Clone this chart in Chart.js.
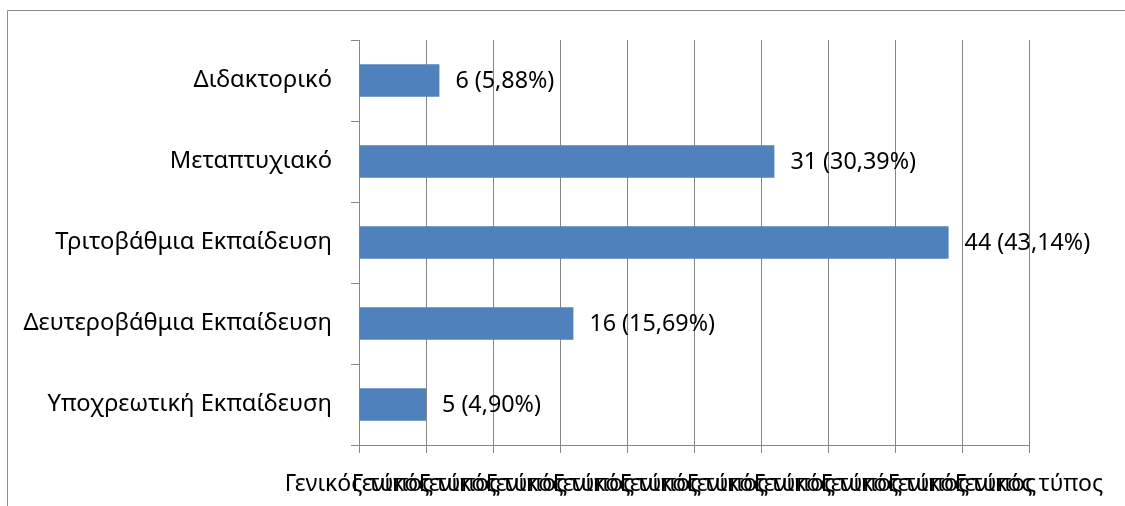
<!DOCTYPE html>
<html><head><meta charset="utf-8">
<script src="https://cdn.jsdelivr.net/npm/chart.js@4"></script>
<style>html,body{margin:0;padding:0;background:#fff;}#wrap{width:1125px;height:506px;position:relative;}</style>
</head><body><div id="wrap"><canvas id="c" width="1125" height="506"></canvas></div>
<script>
const categories = ["Διδακτορικό","Μεταπτυχιακό","Τριτοβάθμια Εκπαίδευση","Δευτεροβάθμια Εκπαίδευση","Υποχρεωτική Εκπαίδευση"];
const counts = [6, 31, 44, 16, 5];
const percents = ["5,88", "30,39", "43,14", "15,69", "4,90"];
const xTickLabel = "Γενικός τύπος";

const FONT = "'Noto Sans', sans-serif";
const FS = 23;
const GRID = "#868686";

const frame = {
  id: 'frame',
  beforeDraw(chart) {
    const ctx = chart.ctx;
    ctx.save();
    ctx.fillStyle = '#fff';
    ctx.fillRect(0, 0, chart.width, chart.height);
    ctx.strokeStyle = '#8c8c8c';
    ctx.lineWidth = 1;
    ctx.beginPath();
    ctx.moveTo(7.5, 506);
    ctx.lineTo(7.5, 10.5);
    ctx.lineTo(1125, 10.5);
    ctx.stroke();
    ctx.restore();
  }
};

const valueLabels = {
  id: 'valueLabels',
  afterDatasetsDraw(chart) {
    const ctx = chart.ctx;
    const meta = chart.getDatasetMeta(0);
    ctx.save();
    ctx.font = "23.3px " + FONT;
    ctx.fillStyle = '#000';
    ctx.textAlign = 'left';
    ctx.textBaseline = 'middle';
    meta.data.forEach((bar, i) => {
      ctx.fillText(counts[i] + " (" + percents[i] + "%)", bar.x + 16, bar.y + 1);
    });
    ctx.restore();
  }
};

new Chart(document.getElementById('c'), {
  type: 'bar',
  data: {
    labels: categories,
    datasets: [{
      data: counts,
      backgroundColor: '#4F81BD',
      borderWidth: 0,
      categoryPercentage: 1,
      barPercentage: 0.4
    }]
  },
  options: {
    indexAxis: 'y',
    responsive: false,
    animation: false,
    layout: { padding: { left: 0, top: 40, right: 96, bottom: 0 } },
    plugins: { legend: { display: false }, tooltip: { enabled: false } },
    scales: {
      x: {
        min: 0, max: 50,
        ticks: {
          stepSize: 5, autoSkip: false, maxRotation: 0, minRotation: 0,
          color: '#000', font: { family: FONT, size: FS }, padding: 18,
          callback: () => xTickLabel
        },
        grid: { color: GRID, tickLength: 8, tickColor: GRID, lineWidth: 1 },
        border: { display: true, color: GRID },
        afterFit(s) { s.height = 61; }
      },
      y: {
        ticks: { color: '#000', font: { family: FONT, size: 23.7 }, padding: 19, autoSkip: false },
        grid: { offset: true, drawOnChartArea: false, tickLength: 8, tickColor: GRID, color: GRID },
        border: { display: true, color: GRID },
        afterFit(s) { s.width = 359; }
      }
    }
  },
  plugins: [frame, valueLabels]
});
</script></body></html>
